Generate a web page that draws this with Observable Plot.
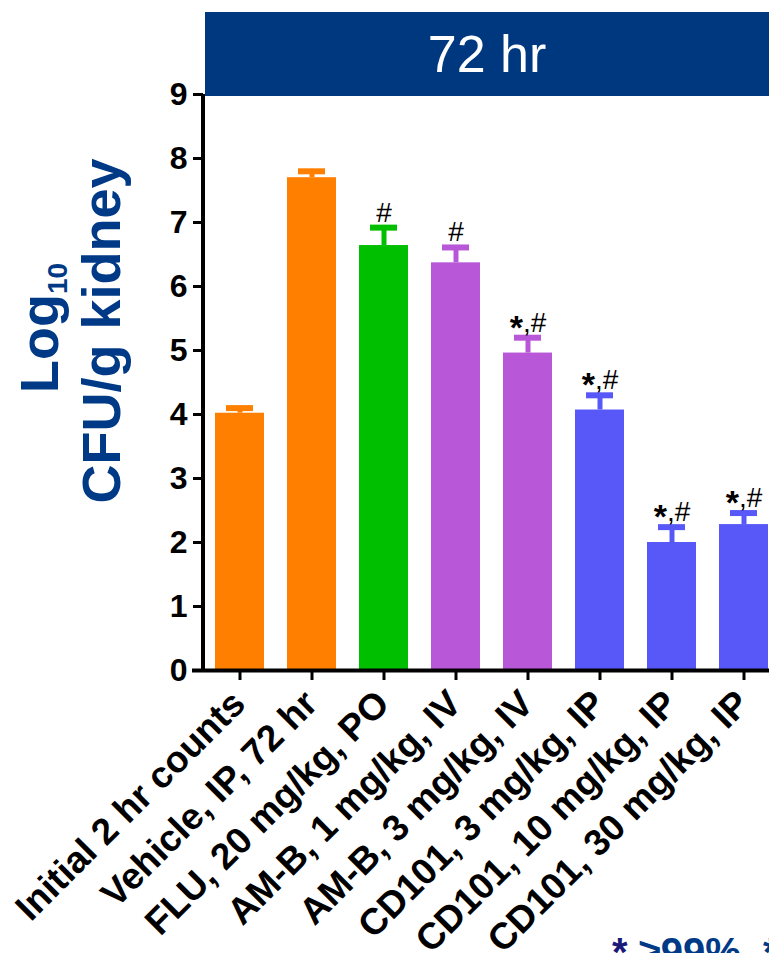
<!DOCTYPE html>
<html><head><meta charset="utf-8">
<script src="https://cdn.jsdelivr.net/npm/d3@7"></script>
<script src="https://cdn.jsdelivr.net/npm/@observablehq/plot@0.6"></script>
<style>
html,body{margin:0;padding:0;background:#fff;overflow:hidden;width:769px;height:953px;}
#wrap{position:relative;width:769px;height:953px;overflow:hidden;font-family:"Liberation Sans",Arial,sans-serif;}
#chart{position:absolute;left:0;top:0;width:780px;}
#chart svg{max-width:none !important;}
#banner{position:absolute;left:205px;top:12px;width:564px;height:84px;background:#003880;color:#fff;font-size:52px;line-height:84px;text-align:center;font-family:"Liberation Sans",Arial,sans-serif;}
</style></head><body>
<div id="wrap"><div id="chart"></div><div id="banner">72 hr</div></div>
<script>
const categories = ["Initial 2 hr counts","Vehicle, IP, 72 hr","FLU, 20 mg/kg, PO","AM-B, 1 mg/kg, IV","AM-B, 3 mg/kg, IV","CD101, 3 mg/kg, IP","CD101, 10 mg/kg, IP","CD101, 30 mg/kg, IP"];
const values = [4.02, 7.70, 6.64, 6.37, 4.96, 4.07, 2.00, 2.28];
const errors = [0.08, 0.10, 0.28, 0.24, 0.24, 0.23, 0.24, 0.18];
const barColors = ["#ff8000","#ff8000","#00bf00","#b857d8","#b857d8","#5858f8","#5858f8","#5858f8"];
const annotations = ["","","#","#","*,#","*,#","*,#","*,#"];
const yTicks = [0,1,2,3,4,5,6,7,8,9];
const yLabelTop = "Log";
const yLabelSub = "10";
const yLabelBottom = "CFU/g kidney";

const data = categories.map((c, i) => ({cat: c, value: values[i], err: errors[i], top: values[i] + errors[i], color: barColors[i], note: annotations[i]}));
const font = "Liberation Sans, Arial, sans-serif";

const plot = Plot.plot({
  width: 780, height: 953,
  marginLeft: 203, marginRight: 1, marginTop: 94, marginBottom: 283,
  style: {fontFamily: font, background: "transparent", color: "#000", maxWidth: "none"},
  x: {domain: categories, paddingInner: 0.32, paddingOuter: 0.16, axis: null},
  y: {domain: [0, 9], axis: null},
  color: {type: "identity"},
  marks: [
    Plot.barY(data, {x: "cat", y: "value", fill: "color"}),
    Plot.ruleX(data, {x: "cat", y1: "value", y2: "top", stroke: "color", strokeWidth: 5}),
    Plot.tickY(data, {x: "cat", y: "top", stroke: "color", strokeWidth: 6, insetLeft: 11, insetRight: 11}),
    Plot.text(data.filter(d => d.note), {x: "cat", y: "top", text: "note", lineAnchor: "bottom", dy: -6, fontSize: 28, fill: "#000", className: "notes"}),
    Plot.ruleY([0], {stroke: "#000", strokeWidth: 4, insetLeft: -11}),
    Plot.axisY({ticks: yTicks, tickSize: 10, tickPadding: 6, strokeWidth: 3, fontSize: 32, fontWeight: "bold", label: null}),
    Plot.axisX({tickSize: 10, strokeWidth: 3, tickFormat: () => "", label: null}),
    Plot.axisX({tickSize: 0, tickPadding: 13, tickRotate: -45, fontSize: 37, fontWeight: "bold", label: null, dx: -1, dy: 14})
  ]
});

document.getElementById("chart").appendChild(plot);

const svg = d3.select(plot);
const y = plot.scale("y");

// style the asterisk of the "*,#" annotations (bold, lowered)
svg.selectAll(".notes text").each(function() {
  const s = this.textContent;
  if (s.startsWith("*")) {
    const t = d3.select(this);
    t.text("");
    t.append("tspan").attr("font-weight", "bold").attr("font-size", 34).attr("dy", 7).text("*");
    t.append("tspan").attr("dy", -7).text(s.slice(1));
  }
});

// y axis line
svg.append("line")
  .attr("x1", 203).attr("x2", 203)
  .attr("y1", y.apply(9)).attr("y2", y.apply(0) + 2)
  .attr("stroke", "#000").attr("stroke-width", 4);

// y label
const gl = svg.append("g").attr("fill", "#003a87").attr("font-weight", "bold").attr("font-family", font);
const t1 = gl.append("text").attr("transform", "translate(58,328) rotate(-90)").attr("text-anchor", "middle").attr("font-size", 54);
t1.append("tspan").text(yLabelTop);
t1.append("tspan").attr("font-size", 28).attr("dy", 9).text(yLabelSub);
gl.append("text").attr("transform", "translate(120,331) rotate(-90)").attr("text-anchor", "middle").attr("font-size", 54).text(yLabelBottom);

// bottom note (cropped)
const note = svg.append("text").attr("x", 612).attr("y", 966).attr("text-anchor", "start").attr("font-size", 40).attr("font-weight", "bold").attr("font-family", font);
note.append("tspan").attr("fill", "#1a1a7a").text("*");
note.append("tspan").attr("fill", "#003a87").text(" \u226599%, *");
</script>
</body></html>
